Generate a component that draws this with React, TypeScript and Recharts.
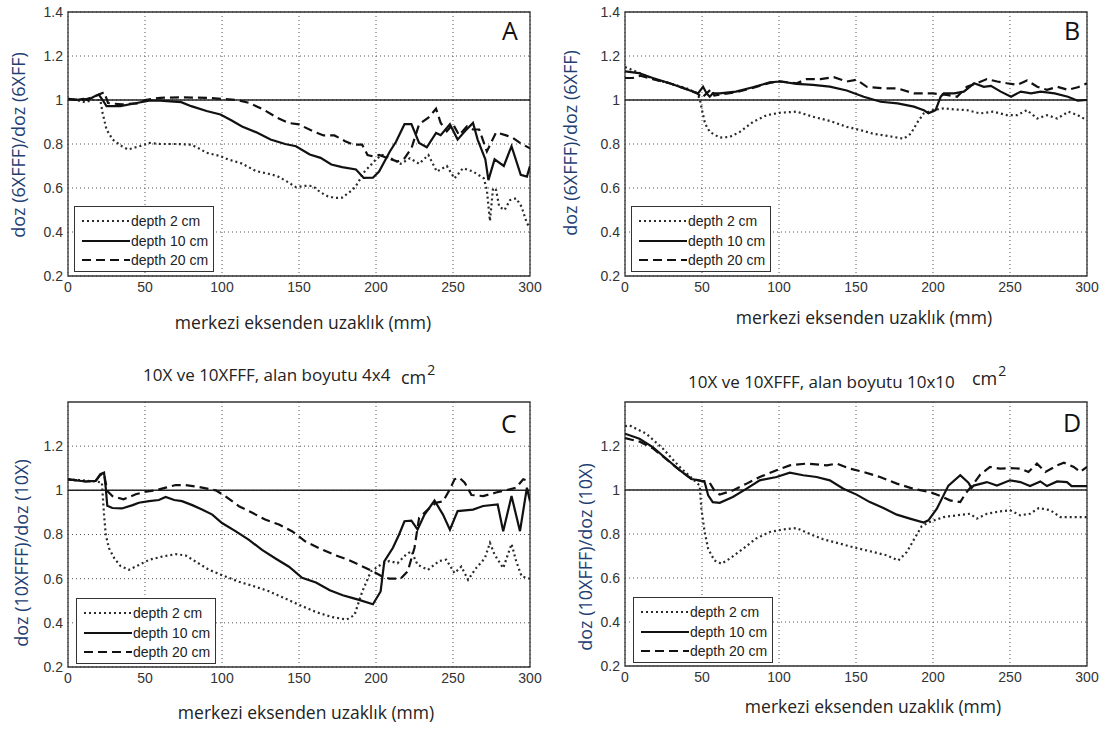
import React from 'react';
import { LineChart, Line, XAxis, YAxis, CartesianGrid, ReferenceLine, ReferenceArea } from 'recharts';

type P = [number, number];

const xTicks = [0, 50, 100, 150, 200, 250, 300];
const yTicksTop = [0.2, 0.4, 0.6, 0.8, 1, 1.2, 1.4];
const yTicksBottom = [0.2, 0.4, 0.6, 0.8, 1, 1.2];
const seriesNames = ['depth 2 cm', 'depth 10 cm', 'depth 20 cm'];
const xLabel = 'merkezi eksenden uzaklık (mm)';
const yLabelTop = 'doz (6XFFF)/doz (6XFF)';
const yLabelBottom = 'doz (10XFFF)/doz (10X)';
const titleC = '10X ve 10XFFF, alan boyutu 4x4';
const titleD = '10X ve 10XFFF, alan boyutu 10x10';

// Panel A (6X, 4x4)
const A2: P[] = [[0,1.0],[5,1.0],[11,0.99],[16,1.0],[21,1.0],[22.5,0.94],[25,0.866],[29,0.82],[35,0.79],[39,0.775],[44,0.785],[48,0.793],[53,0.805],[60,0.8],[71,0.8],[80,0.797],[85,0.78],[90,0.76],[99,0.745],[104,0.73],[113,0.711],[122,0.677],[130,0.665],[136,0.654],[142,0.63],[148,0.604],[154,0.61],[159,0.609],[164,0.58],[168.5,0.563],[173,0.555],[178,0.556],[185,0.593],[188,0.62],[192,0.67],[196,0.7],[200,0.73],[204,0.75],[211,0.73],[216,0.71],[222,0.735],[228,0.71],[234,0.75],[239.5,0.675],[246,0.7],[251,0.644],[256.5,0.69],[263,0.675],[270,0.644],[272,0.59],[274,0.45],[276,0.6],[278,0.59],[280,0.515],[283.5,0.5],[287,0.545],[291,0.553],[294.5,0.515],[298,0.44],[300,0.42]];
const A10: P[] = [[0,1.005],[5,1.0],[10,1.005],[13,1.0],[16.7,1.015],[20,1.025],[22.5,1.0],[25,0.972],[34,0.972],[43,0.984],[52.6,0.997],[60,0.997],[66.5,0.994],[73.5,0.99],[80,0.972],[90,0.95],[99,0.934],[106,0.908],[113,0.88],[122,0.854],[131.5,0.82],[141,0.8],[148,0.79],[157,0.752],[164,0.737],[171,0.707],[178,0.695],[187,0.684],[192,0.646],[198,0.647],[202,0.675],[209,0.766],[213,0.81],[218.5,0.89],[223,0.89],[228,0.805],[233,0.785],[239,0.85],[242,0.84],[248,0.89],[253,0.82],[258,0.86],[263,0.896],[266,0.82],[271,0.73],[273,0.636],[277,0.73],[283,0.7],[288,0.79],[294,0.66],[298,0.652],[300,0.7]];
const A20: P[] = [[0,1.005],[10,1.0],[16.7,1.015],[23.6,1.035],[26,0.986],[35,0.98],[45,0.985],[50,1.0],[60,1.01],[75,1.012],[90,1.01],[100,1.005],[110,1.0],[117.5,0.987],[127,0.956],[136,0.919],[143,0.896],[150,0.889],[159,0.858],[166,0.839],[173,0.839],[180,0.813],[185,0.797],[191,0.797],[194.5,0.75],[198,0.744],[202,0.75],[208,0.735],[214,0.72],[218.5,0.735],[223,0.78],[228,0.89],[234,0.92],[239,0.96],[242,0.896],[246,0.858],[250,0.89],[254,0.84],[259,0.88],[263,0.866],[267,0.866],[272,0.766],[278,0.853],[285,0.838],[289,0.827],[293.5,0.805],[300,0.78]];

// Panel B (6X, 10x10)
const B2: P[] = [[0,1.15],[7,1.13],[13.5,1.11],[21,1.09],[29,1.076],[40,1.053],[47,1.03],[48.7,1.0],[50,0.954],[52,0.893],[55,0.855],[61.5,0.829],[68,0.832],[74.6,0.855],[83,0.9],[92,0.931],[100.6,0.942],[111.5,0.947],[122,0.924],[133,0.905],[144,0.878],[153,0.863],[161,0.847],[172,0.835],[181,0.824],[185.6,0.847],[190,0.9],[194,0.939],[200,0.954],[207,0.962],[213.7,0.957],[222,0.954],[230.7,0.939],[239,0.947],[248,0.931],[254.7,0.931],[261,0.954],[267.7,0.916],[274,0.931],[280.7,0.916],[288,0.947],[294,0.931],[300,0.908]];
const B10: P[] = [[0,1.13],[9,1.122],[18,1.1],[29,1.076],[40,1.049],[47.4,1.03],[50.7,1.06],[53,1.03],[55,1.015],[57,1.03],[61.5,1.03],[72,1.038],[83,1.058],[94,1.08],[100.6,1.084],[111.5,1.073],[122,1.069],[133,1.061],[144,1.043],[155,1.015],[166,0.992],[177,0.985],[187.6,0.97],[194,0.954],[197,0.94],[201.7,0.954],[205,1.015],[207,1.03],[213.7,1.03],[220,1.038],[226.7,1.076],[233,1.06],[237.6,1.064],[244,1.038],[250.7,1.015],[257,1.038],[263.7,1.03],[270,1.038],[279,1.03],[287.6,1.015],[294,0.997],[300,1.0]];
const B20: P[] = [[0,1.1],[5,1.1],[10,1.11],[18,1.095],[29,1.076],[40,1.049],[47,1.03],[50,1.01],[53,1.03],[56,1.05],[58,1.02],[61.5,1.025],[72,1.035],[83,1.055],[94,1.078],[100.6,1.085],[111.5,1.076],[118,1.095],[127,1.095],[135.6,1.104],[144,1.084],[150.6,1.092],[157,1.06],[168,1.053],[177,1.053],[187.6,1.03],[194,1.03],[200,1.03],[209,1.023],[215.6,1.015],[222,1.06],[228.5,1.076],[235,1.095],[241.7,1.084],[248,1.076],[254.7,1.069],[261,1.089],[267.7,1.06],[274,1.046],[280.7,1.06],[287.6,1.046],[294,1.058],[300,1.076]];

// Panel C (10X, 4x4)
const C2: P[] = [[0,1.05],[10,1.045],[18,1.04],[22,1.035],[23.4,0.89],[24.5,0.8],[26.6,0.738],[30,0.693],[34,0.658],[39.6,0.64],[46,0.662],[52.6,0.685],[61,0.7],[70,0.711],[76.4,0.705],[83,0.677],[91.6,0.64],[100,0.616],[111,0.586],[119.7,0.568],[130.5,0.543],[141,0.51],[150,0.482],[161,0.449],[171.6,0.426],[181,0.415],[186,0.435],[191,0.54],[196.7,0.633],[203,0.663],[208.7,0.68],[214,0.67],[219.6,0.71],[223,0.724],[227,0.663],[233.7,0.64],[241,0.68],[245.6,0.686],[251,0.625],[255.4,0.655],[259.8,0.595],[265,0.648],[270.7,0.693],[274,0.762],[277,0.709],[282.6,0.648],[288,0.757],[291,0.68],[294.6,0.61],[300,0.6]];
const C10: P[] = [[0,1.05],[11.5,1.04],[18,1.043],[21,1.073],[23.4,1.08],[24.5,1.012],[25.5,0.93],[28.8,0.92],[35,0.918],[42,0.933],[46,0.944],[52.6,0.951],[59,0.956],[63.4,0.97],[69,0.956],[74,0.951],[80.7,0.933],[87,0.913],[93.7,0.89],[100,0.852],[109,0.814],[117.5,0.776],[126,0.73],[135,0.69],[143.5,0.654],[152,0.604],[161,0.583],[170,0.548],[178.4,0.525],[185,0.512],[189,0.504],[198,0.484],[203,0.542],[205.4,0.678],[211,0.74],[215,0.8],[218.5,0.86],[223,0.863],[227,0.822],[231.5,0.89],[238,0.954],[243.5,0.89],[248,0.822],[253,0.906],[263,0.913],[269.6,0.929],[279,0.936],[282.6,0.815],[288,0.974],[293.5,0.815],[298,1.012],[300,0.95]];
const C20: P[] = [[0,1.05],[11.5,1.04],[18,1.043],[21,1.07],[23.4,1.075],[25.5,0.997],[28.8,0.974],[36,0.959],[44,0.982],[50.4,0.994],[57,1.0],[63.4,1.012],[70,1.024],[76.4,1.024],[85,1.015],[96,1.0],[102,0.974],[111,0.928],[119.7,0.898],[128,0.868],[137,0.845],[145.7,0.814],[154,0.769],[163,0.738],[174,0.705],[182,0.685],[189,0.663],[198,0.633],[204,0.61],[208.7,0.6],[216,0.6],[220.6,0.633],[225,0.74],[228,0.876],[233.7,0.913],[239,0.944],[243.5,0.95],[248,1.005],[251,1.05],[254,1.058],[257.6,1.035],[262,0.979],[269.6,0.974],[278,0.99],[287,1.005],[291,1.012],[295.6,1.05],[300,1.04]];

// Panel D (10X, 10x10)
const D2: P[] = [[0,1.29],[2.8,1.294],[13.8,1.256],[24.6,1.188],[35.5,1.105],[44,1.05],[48.5,1.02],[49.6,0.915],[51.7,0.81],[54,0.733],[58,0.68],[62.6,0.665],[68,0.688],[76.7,0.733],[85,0.779],[94,0.809],[102.7,0.821],[111.4,0.827],[120,0.8],[128.7,0.776],[139.6,0.756],[150.4,0.736],[161.3,0.718],[170,0.703],[177.5,0.68],[183,0.718],[187.3,0.771],[192.7,0.836],[198,0.855],[206.8,0.877],[215.5,0.885],[224,0.892],[228.5,0.87],[235,0.892],[243.7,0.903],[250,0.908],[256.7,0.885],[263,0.892],[268.7,0.918],[276.2,0.908],[282.7,0.877],[300,0.877]];
const D10: P[] = [[0,1.256],[9.4,1.233],[18,1.195],[26.8,1.142],[35.5,1.09],[43,1.05],[48.5,1.044],[51.7,1.036],[54,0.976],[57,0.945],[61.5,0.942],[70,0.968],[79,1.006],[87.5,1.044],[98.4,1.059],[107,1.079],[115.7,1.067],[124.4,1.059],[133,1.044],[141.8,1.006],[150.4,0.979],[159,0.945],[167.8,0.918],[176.5,0.888],[185,0.87],[194,0.852],[197,0.862],[202.5,0.915],[210,1.02],[217.7,1.067],[223,1.033],[225,1.009],[226.4,1.02],[235,1.036],[241.5,1.02],[250,1.044],[256.7,1.036],[263,1.018],[269.7,1.039],[274,1.018],[280.6,1.039],[287,1.036],[290,1.018],[300,1.018]];
const D20: P[] = [[0,1.236],[9.4,1.22],[18,1.19],[26.8,1.14],[35.5,1.09],[43,1.052],[48.5,1.042],[51.7,1.04],[55,1.033],[58,0.998],[61.5,0.979],[70,0.998],[79,1.029],[87.5,1.059],[98.4,1.09],[107,1.112],[118,1.12],[131,1.112],[137.4,1.12],[146,1.097],[154.8,1.082],[165.6,1.059],[176.5,1.029],[187,1.006],[198,0.991],[204.7,0.973],[211,0.953],[217.7,0.945],[221,0.983],[226.4,1.029],[230.7,1.07],[237,1.105],[243.6,1.097],[250,1.1],[256.7,1.097],[262,1.082],[267.5,1.12],[273,1.082],[280.6,1.112],[285,1.124],[291.4,1.105],[295.6,1.082],[300,1.105]];

const toRows = (pts: P[]) => pts.map(([x, y]) => ({ x, y }));

const STYLES = [
  { dash: '2 3', width: 2.2, color: '#2a2a2a' },
  { dash: undefined as string | undefined, width: 2.2, color: '#111' },
  { dash: '9 5', width: 2.2, color: '#111' },
];

const TICK_FONT = { fontFamily: 'Liberation Sans, Arial, sans-serif', fontSize: 14, fill: '#333' };
const LABEL_FONT = "'Open Sans', sans-serif";

type Box = { l: number; t: number; r: number; b: number };

function Panel(props: {
  left: number; top: number; width: number; height: number; plot: Box;
  series: P[][]; yTicks: number[]; letter: string; letterPos: [number, number];
  legend: [number, number]; xLab: [number, number]; yLab: [number, number]; yText: string;
}) {
  const { left, top, width, height, plot, series, yTicks, letter, letterPos, legend, xLab, yLab, yText } = props;
  const xAxisH = 20;
  const margin = { top: plot.t - top, right: left + width - plot.r, bottom: top + height - plot.b - xAxisH, left: 0 };
  return (
    <>
      <div style={{ position: 'absolute', left, top, width, height }}>
        <LineChart width={width} height={height} margin={margin}>
          <CartesianGrid strokeDasharray="1 3" stroke="#555" horizontalValues={yTicks} verticalValues={xTicks} />
          <XAxis type="number" dataKey="x" domain={[0, 300]} ticks={xTicks} allowDataOverflow
            axisLine={false} tickLine={false} tickSize={3} tickMargin={3} height={xAxisH} tick={TICK_FONT} interval={0} />
          <YAxis type="number" dataKey="y" domain={[0.2, 1.4]} ticks={yTicks} allowDataOverflow
            axisLine={false} tickLine={false} tickSize={3} tickMargin={2} width={plot.l - left} tick={TICK_FONT} interval={0}
            tickFormatter={(v: number) => (v === 1 ? '1' : v.toFixed(1))} />
          <ReferenceLine y={1} stroke="#222" strokeWidth={1.5} />
          {series.map((s, i) => (
            <Line key={i} data={toRows(s)} dataKey="y" name={seriesNames[i]} type="linear" dot={false} activeDot={false}
              stroke={STYLES[i].color} strokeWidth={STYLES[i].width} strokeDasharray={STYLES[i].dash}
              isAnimationActive={false} />
          ))}
          <ReferenceArea x1={0} x2={300} y1={0.2} y2={1.4} fill="none" stroke="#333" strokeWidth={1.3} ifOverflow="visible" />
        </LineChart>
      </div>
      <div style={{ position: 'absolute', left: letterPos[0], top: letterPos[1], fontFamily: LABEL_FONT, fontSize: 25, color: '#111', lineHeight: 1 }}>{letter}</div>
      <div style={{ position: 'absolute', left: legend[0], top: legend[1], width: 140, height: 66, boxSizing: 'border-box', border: '1.5px solid #333', background: '#fff' }}>
        {seriesNames.map((n, i) => (
          <div key={n} style={{ position: 'absolute', left: 0, top: 5 + i * 19.5, height: 18, width: 140 }}>
            <svg width={52} height={18} style={{ position: 'absolute', left: 5, top: 0 }}>
              <line x1={2} y1={9} x2={50} y2={9} stroke={STYLES[i].color} strokeWidth={STYLES[i].width} strokeDasharray={STYLES[i].dash} />
            </svg>
            <span style={{ position: 'absolute', left: 56, top: 0, fontFamily: 'Liberation Sans, Arial, sans-serif', fontSize: 14, lineHeight: '18px', color: '#222', whiteSpace: 'nowrap' }}>{n}</span>
          </div>
        ))}
      </div>
      <div style={{ position: 'absolute', left: xLab[0], top: xLab[1], transform: 'translate(-50%, -50%)', fontFamily: LABEL_FONT, fontSize: 17.5, color: '#222', whiteSpace: 'nowrap' }}>{xLabel}</div>
      <div style={{ position: 'absolute', left: yLab[0], top: yLab[1], transform: 'translate(-50%, -50%) rotate(-90deg)', fontFamily: LABEL_FONT, fontSize: 18, color: '#1f3f73', whiteSpace: 'nowrap' }}>{yText}</div>
    </>
  );
}

function Title(props: { text: string; left: number; top: number; cmLeft: number; cmTop: number }) {
  return (
    <>
      <div style={{ position: 'absolute', left: props.left, top: props.top, fontFamily: LABEL_FONT, fontSize: 17, lineHeight: '20px', color: '#222', whiteSpace: 'nowrap' }}>
        {props.text}
      </div>
      <div style={{ position: 'absolute', left: props.cmLeft, top: props.cmTop, fontFamily: LABEL_FONT, fontSize: 18, lineHeight: '22px', color: '#222', whiteSpace: 'nowrap' }}>
        cm<span style={{ fontSize: 14, position: 'relative', top: -9, marginLeft: 1 }}>2</span>
      </div>
    </>
  );
}

export default function App() {
  return (
    <div style={{ position: 'absolute', left: 0, top: 0, width: 1107, height: 729, background: '#fff', overflow: 'hidden' }}>
      <Panel left={0} top={0} width={560} height={300} plot={{ l: 68, t: 12, r: 530, b: 276 }}
        series={[A2, A10, A20]} yTicks={yTicksTop} letter="A" letterPos={[502, 18]}
        legend={[74, 206]} xLab={[303, 322]} yLab={[18, 145]} yText={yLabelTop} />
      <Panel left={556} top={0} width={551} height={300} plot={{ l: 625, t: 12, r: 1087, b: 276 }}
        series={[B2, B10, B20]} yTicks={yTicksTop} letter="B" letterPos={[1064, 18]}
        legend={[631, 206]} xLab={[864, 317]} yLab={[570, 143]} yText={yLabelTop} />
      <Title text={titleC} left={143} top={365} cmLeft={401} cmTop={366} />
      <Title text={titleD} left={688} top={372} cmLeft={972} cmTop={367} />
      <Panel left={0} top={390} width={560} height={300} plot={{ l: 68, t: 402, r: 530, b: 667 }}
        series={[C2, C10, C20]} yTicks={yTicksBottom} letter="C" letterPos={[501, 411]}
        legend={[76, 598]} xLab={[306, 712]} yLab={[21, 553]} yText={yLabelBottom} />
      <Panel left={556} top={390} width={551} height={300} plot={{ l: 625, t: 402, r: 1087, b: 666 }}
        series={[D2, D10, D20]} yTicks={yTicksBottom} letter="D" letterPos={[1063, 410]}
        legend={[633, 597]} xLab={[873, 706]} yLab={[585, 557]} yText={yLabelBottom} />
    </div>
  );
}
